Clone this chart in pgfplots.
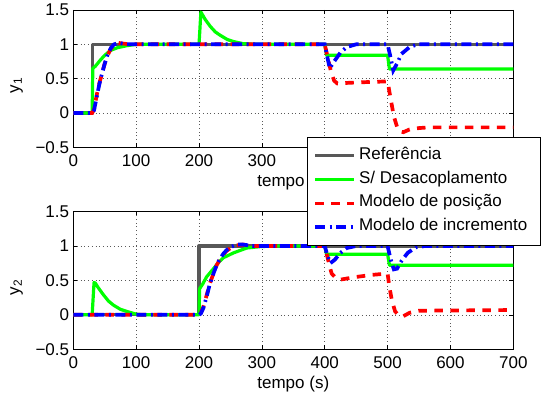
\documentclass[border=0pt]{standalone}
\usepackage{fontspec}
\setmainfont{Liberation Sans}
\usepackage{pgfplots}
\pgfplotsset{compat=1.18}
\newcommand\fs{\fontsize{17}{20.4}\selectfont}
\definecolor{refgray}{RGB}{88,88,88}
\definecolor{mgreen}{RGB}{0,255,0}
\definecolor{mred}{RGB}{255,0,0}
\definecolor{mblue}{RGB}{0,0,255}

\pgfplotsset{
  panel/.style={
    scale only axis, width=440pt,
    xmin=0, xmax=700, ymin=-0.5, ymax=1.5,
    xtick={0,100,...,700}, xticklabels={0,100,200,300,400,500,600,700},
    ytick={-0.5,0,0.5,1,1.5}, yticklabels={−0.5,0,0.5,1,1.5},
    grid=major,
    grid style={black!65, line width=0.6pt, dash pattern=on 0.7pt off 3pt},
    major tick length=4pt,
    tick style={black, line width=0.6pt},
    axis line style={line width=0.8pt},
    tick label style={font=\fs},
    xticklabel style={anchor=base, yshift=-19pt},
    yticklabel style={anchor=east, inner xsep=4pt},
    label style={font=\fs},
    xlabel={tempo (s)},
    xlabel style={at={(axis description cs:0.5,-0.255)}, anchor=center},
    ylabel style={at={(axis description cs:-0.129,0.45)}, anchor=center, rotate=0},
  },
  sref/.style={refgray, line width=3.2pt, line join=round},
  sgreen/.style={mgreen, line width=3.2pt, line join=round},
  sred/.style={mred, line width=3.7pt, dash pattern=on 8.5pt off 7.5pt},
  sblue/.style={mblue, line width=3.7pt, dash pattern=on 10pt off 4.5pt on 2pt off 4.5pt},
}

\begin{document}
\begin{tikzpicture}
% y1
\begin{axis}[panel, height=137.3pt, at={(73.3pt,253.7pt)}, anchor=south west,
  ylabel={y\textsubscript{1}}]
\addplot[sref] coordinates {(0,0) (30,0) (30,1) (700,1)};
\addplot[sgreen] coordinates {
  (0,0) (30,0) (31,0.65) (35,0.68) (43,0.77) (50,0.84) (59,0.91) (70,0.95)
  (85,0.98) (100,1.0) (200,1.0) (203,1.47) (210,1.36) (218,1.26) (226,1.18)
  (234,1.13) (245,1.07) (255,1.04) (270,1.01) (290,1.0) (400,1.0) (403,0.84)
  (500,0.84) (503,0.64) (700,0.64)};
\addplot[sred] coordinates {
  (0,0) (30,0) (33,0.05) (37,0.25) (41,0.42) (45,0.55) (50,0.72) (55,0.85)
  (60,0.94) (65,0.99) (72,1.02) (80,1.01) (90,1.0) (400,1.0) (405,0.8)
  (410,0.6) (415,0.47) (420,0.43) (440,0.44) (467,0.45) (500,0.46) (505,0.2)
  (510,-0.05) (515,-0.2) (520,-0.27) (525,-0.28) (535,-0.24) (550,-0.22)
  (565,-0.21) (700,-0.21)};
\addplot[sblue] coordinates {
  (0,0) (30,0) (33,0.04) (37,0.22) (41,0.4) (45,0.55) (50,0.72) (55,0.86)
  (60,0.95) (65,1.0) (72,1.02) (85,1.0) (400,1.0) (404,0.82) (408,0.65)
  (415,0.75) (425,0.88) (435,0.96) (450,1.0) (500,1.0) (505,0.8) (509,0.62)
  (515,0.72) (522,0.86) (535,0.96) (548,1.0) (700,1.0)};
\end{axis}
% y2
\begin{axis}[panel, height=137.8pt, at={(73.3pt,51.7pt)}, anchor=south west,
  ylabel={y\textsubscript{2}},
  legend style={at={(axis description cs:0.5311,1.5385)}, anchor=north west,
    draw=black, line width=0.8pt, fill=white, font=\fs, inner sep=6pt,
    row sep=0pt,
    nodes={inner xsep=3pt, inner ysep=3pt, text height=12.5pt, text depth=5.4pt}},
  legend cell align=left,
  legend image code/.code={\draw[#1] (0pt,0pt) -- (39pt,0pt);}]
\addplot[sref] coordinates {(0,0) (200,0) (200,1) (700,1)};
\addlegendentry{\makebox[172pt][l]{Referência}}
\addplot[sgreen] coordinates {
  (0,0) (30,0) (33,0.47) (35,0.46) (40,0.39) (48,0.29) (56,0.2) (64,0.14)
  (75,0.08) (85,0.05) (100,0.01) (110,0) (200,0) (201,0.38) (206,0.45)
  (212,0.55) (223,0.67) (232,0.77) (239,0.83) (255,0.9) (276,0.97) (297,0.99)
  (320,1.0) (400,1.0) (403,0.88) (500,0.88) (503,0.72) (700,0.72)};
\addlegendentry{S/ Desacoplamento}
\addplot[sred] coordinates {
  (0,0) (200,0) (203,0.03) (207,0.12) (212,0.28) (217,0.45) (223,0.6)
  (228,0.72) (233,0.8) (239,0.88) (244,0.93) (252,0.98) (260,1.01) (270,1.02)
  (285,1.0) (400,1.0) (404,0.85) (408,0.7) (411,0.6) (416,0.55) (424,0.51)
  (450,0.55) (475,0.58) (500,0.6) (503,0.4) (507,0.2) (512,0.05) (518,-0.01)
  (525,-0.02) (535,0.03) (550,0.06) (700,0.07)};
\addlegendentry{Modelo de posição}
\addplot[sblue] coordinates {
  (0,0) (200,0) (203,0.02) (207,0.1) (212,0.26) (217,0.44) (223,0.6)
  (228,0.72) (233,0.81) (239,0.89) (244,0.94) (252,0.99) (260,1.02) (270,1.02)
  (285,1.0) (400,1.0) (404,0.87) (409,0.75) (416,0.8) (425,0.9) (435,0.97)
  (450,1.0) (500,1.0) (505,0.8) (510,0.66) (515,0.67) (522,0.78) (532,0.9)
  (545,0.98) (560,1.0) (700,1.0)};
\addlegendentry{Modelo de incremento}
\end{axis}
\pgfresetboundingbox
\path[use as bounding box] (0,0) rectangle (543pt,401pt);
\end{tikzpicture}
\end{document}
